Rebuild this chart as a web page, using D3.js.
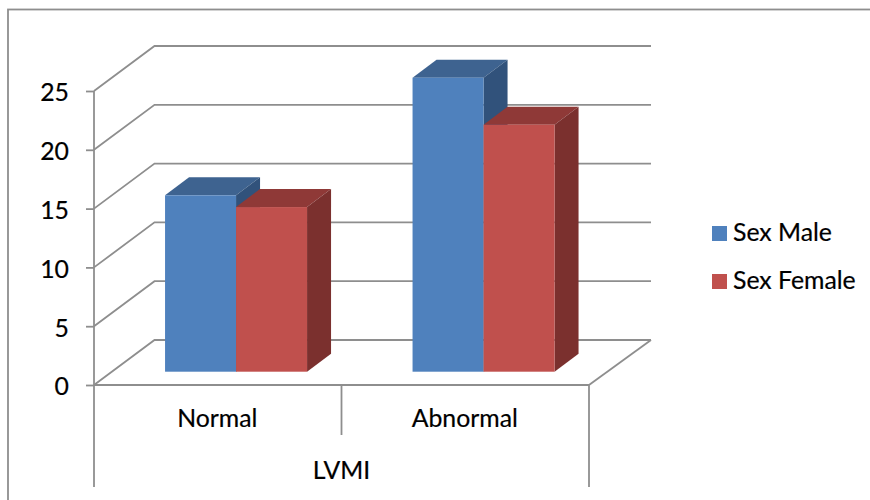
<!DOCTYPE html>
<html>
<head>
<meta charset="utf-8">
<script src="https://cdn.jsdelivr.net/npm/d3@7"></script>
<style>
html, body { margin: 0; padding: 0; background: #fff; }
svg { display: block; }
text { font-family: Lato, "Open Sans", sans-serif; fill: #000; stroke: #000; stroke-width: 0.2px; }
</style>
</head>
<body>
<div id="chart"></div>
<script>
const categories = ["Normal", "Abnormal"];
const seriesNames = ["Sex Male", "Sex Female"];
const maleValues = [15, 25];
const femaleValues = [14, 21];
const yTicks = [0, 5, 10, 15, 20, 25];
const axisTitle = "LVMI";

const faceColors = ["#4f81bd", "#c0504d"];
const topColors = ["#3e6390", "#8f3937"];
const sideColors = ["#31527b", "#7b302e"];
const lineColor = "#8e8e8e";
const fontSize = "24.8px";

const width = 870;
const height = 500;

// front plane of the fake 3d box
const scaleY = d3.scaleLinear().domain([0, 25]).range([385, 91]);
const scaleX = d3.scaleBand().domain(categories).range([94, 589]);
const wallDx = 60.5;
const wallDy = -45;

// bars sit part way into the box
const barShiftX = 18.3;
const barShiftY = -13.3;
const barDx = 24;
const barDy = -18;
const groupW = 142;
const scaleSeries = d3.scaleBand().domain([0, 1]).range([0, groupW]);

const svg = d3.select("#chart")
    .append("svg")
    .attr("width", width)
    .attr("height", height);

// outer border
svg.append("rect")
    .attr("x", 8)
    .attr("y", 9.5)
    .attr("width", 880)
    .attr("height", 520)
    .attr("fill", "#fff")
    .attr("stroke", lineColor)
    .attr("stroke-width", 1.8);

const x0 = scaleX.range()[0];
const x1 = scaleX.range()[1];

// gridlines, side wall and back wall
const grid = svg.append("g")
    .attr("fill", "none")
    .attr("stroke", lineColor)
    .attr("stroke-width", 1.8);

yTicks.forEach(function(t) {
    const path = d3.path();
    path.moveTo(x0, scaleY(t));
    path.lineTo(x0 + wallDx, scaleY(t) + wallDy);
    path.lineTo(x1 + wallDx + 1.5, scaleY(t) + wallDy);
    grid.append("path").attr("d", path.toString());
});

// floor right edge
const floorEdge = d3.path();
floorEdge.moveTo(x1, scaleY(0));
floorEdge.lineTo(x1 + wallDx + 1.5, scaleY(0) + wallDy);
grid.append("path").attr("d", floorEdge.toString());

// y axis
const axisY = svg.append("g")
    .attr("transform", `translate(${x0},0)`)
    .call(d3.axisLeft(scaleY).tickValues(yTicks).tickSize(8).tickPadding(17));
axisY.select(".domain").remove();
axisY.selectAll("line").attr("stroke", lineColor).attr("stroke-width", 1.8);
axisY.selectAll("text")
    .attr("font-size", fontSize)
    .attr("font-family", "Lato, 'Open Sans', sans-serif")
    .attr("dy", "0.4em");

// front floor line and the drop lines under it
const frame = svg.append("g")
    .attr("stroke", lineColor)
    .attr("stroke-width", 1.8);
frame.append("line").attr("x1", x0).attr("x2", x0).attr("y1", scaleY(25)).attr("y2", 487);
frame.append("line").attr("x1", x1).attr("x2", x1).attr("y1", scaleY(0)).attr("y2", 487);
frame.append("line").attr("x1", x0).attr("x2", x1).attr("y1", scaleY(0)).attr("y2", scaleY(0));
frame.append("line")
    .attr("x1", scaleX(categories[1]))
    .attr("x2", scaleX(categories[1]))
    .attr("y1", scaleY(0))
    .attr("y2", 435);

// bars
const valuesBySeries = [maleValues, femaleValues];
const bars = svg.append("g");

categories.forEach(function(cat, c) {
    const left = scaleX(cat) + barShiftX + (scaleX.bandwidth() - groupW) / 2;
    valuesBySeries.forEach(function(values, s) {
        const xa = left + scaleSeries(s);
        const xb = xa + scaleSeries.bandwidth();
        const yTop = scaleY(values[c]) + barShiftY;
        const yBot = scaleY(0) + barShiftY;

        bars.append("polygon")
            .attr("points", [[xa, yTop], [xa + barDx, yTop + barDy], [xb + barDx, yTop + barDy], [xb, yTop]].join(" "))
            .attr("fill", topColors[s]);

        bars.append("polygon")
            .attr("points", [[xb, yTop], [xb + barDx, yTop + barDy], [xb + barDx, yBot + barDy], [xb, yBot]].join(" "))
            .attr("fill", sideColors[s]);

        bars.append("rect")
            .attr("x", xa)
            .attr("y", yTop)
            .attr("width", xb - xa)
            .attr("height", yBot - yTop)
            .attr("fill", faceColors[s]);
    });
});

// category labels
svg.append("g")
    .selectAll("text")
    .data(categories)
    .join("text")
    .attr("x", d => scaleX(d) + scaleX.bandwidth() / 2 - 0.5)
    .attr("y", 427)
    .attr("text-anchor", "middle")
    .attr("font-size", fontSize)
    .text(d => d);

svg.append("text")
    .attr("x", (x0 + x1) / 2)
    .attr("y", 479)
    .attr("text-anchor", "middle")
    .attr("font-size", fontSize)
    .text(axisTitle);

// legend
const legendRows = svg.append("g")
    .selectAll("g")
    .data(seriesNames)
    .join("g")
    .attr("transform", (d, i) => `translate(712,${226 + i * 48})`);

legendRows.append("rect")
    .attr("width", 15)
    .attr("height", 15)
    .attr("fill", (d, i) => faceColors[i]);

legendRows.append("text")
    .attr("x", 21)
    .attr("y", 15)
    .attr("font-size", fontSize)
    .text(d => d);
</script>
</body>
</html>
